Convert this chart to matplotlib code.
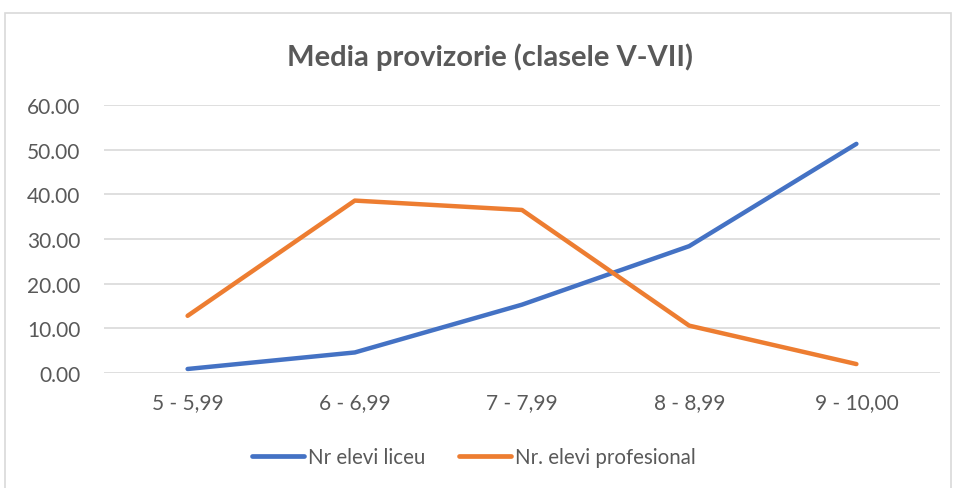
import matplotlib
matplotlib.use("Agg")
import matplotlib.pyplot as plt
from matplotlib.patches import Rectangle
from matplotlib.lines import Line2D

categories = ["5 - 5,99", "6 - 6,99", "7 - 7,99", "8 - 8,99", "9 - 10,00"]
liceu = [0.9, 4.6, 15.3, 28.4, 51.3]
profesional = [12.8, 38.6, 36.5, 10.6, 2.0]
series_names = ["Nr elevi liceu", "Nr. elevi profesional"]

text_color = "#595959"
grid_color = "#d9d9d9"
blue = "#4472c4"
orange = "#ed7d31"

plt.rcParams["font.family"] = ["Lato", "DejaVu Sans"]

W, H = 956, 489
fig = plt.figure(figsize=(W / 100, H / 100), dpi=100)
fig.patches.append(Rectangle((5 / W, -0.1), 946 / W, 1.1 - 14 / H,
                             transform=fig.transFigure, fill=False,
                             edgecolor=grid_color, linewidth=1.2))

ax = fig.add_axes([104 / W, 1 - 374 / H, 836 / W, 268 / H])
x = list(range(len(categories)))
ax.plot(x, liceu, color=blue, lw=3.2, solid_capstyle="round", zorder=3)
ax.plot(x, profesional, color=orange, lw=3.2, solid_capstyle="round", zorder=3)

ax.set_xlim(-0.5, len(categories) - 0.5)
ax.set_ylim(0, 60)
ax.set_yticks(range(0, 61, 10))
ax.set_yticklabels([f"{v:.2f}" for v in range(0, 61, 10)])
ax.set_xticks(x)
ax.set_xticklabels(categories)
ax.grid(axis="y", color=grid_color, lw=1.2)
ax.set_axisbelow(True)
for s in ax.spines.values():
    s.set_visible(False)
ax.tick_params(length=0, colors=text_color, labelsize=15)
ax.yaxis.set_tick_params(pad=17)
ax.xaxis.set_tick_params(pad=14)

fig.text(490 / W, 1 - 57 / H, "Media provizorie (clasele V-VII)", ha="center",
         va="center", fontsize=21, fontweight="bold", color=text_color)

handles = [Line2D([], [], color=blue, lw=3.4, solid_capstyle="round"),
           Line2D([], [], color=orange, lw=3.4, solid_capstyle="round")]
fig.legend(handles, series_names, loc="center", bbox_to_anchor=(474 / W, 1 - 458 / H),
           ncol=2, frameon=False, fontsize=14.8, labelcolor=text_color,
           handlelength=2.5, handletextpad=0.2, columnspacing=1.65)

fig.savefig("out.png", dpi=100)
